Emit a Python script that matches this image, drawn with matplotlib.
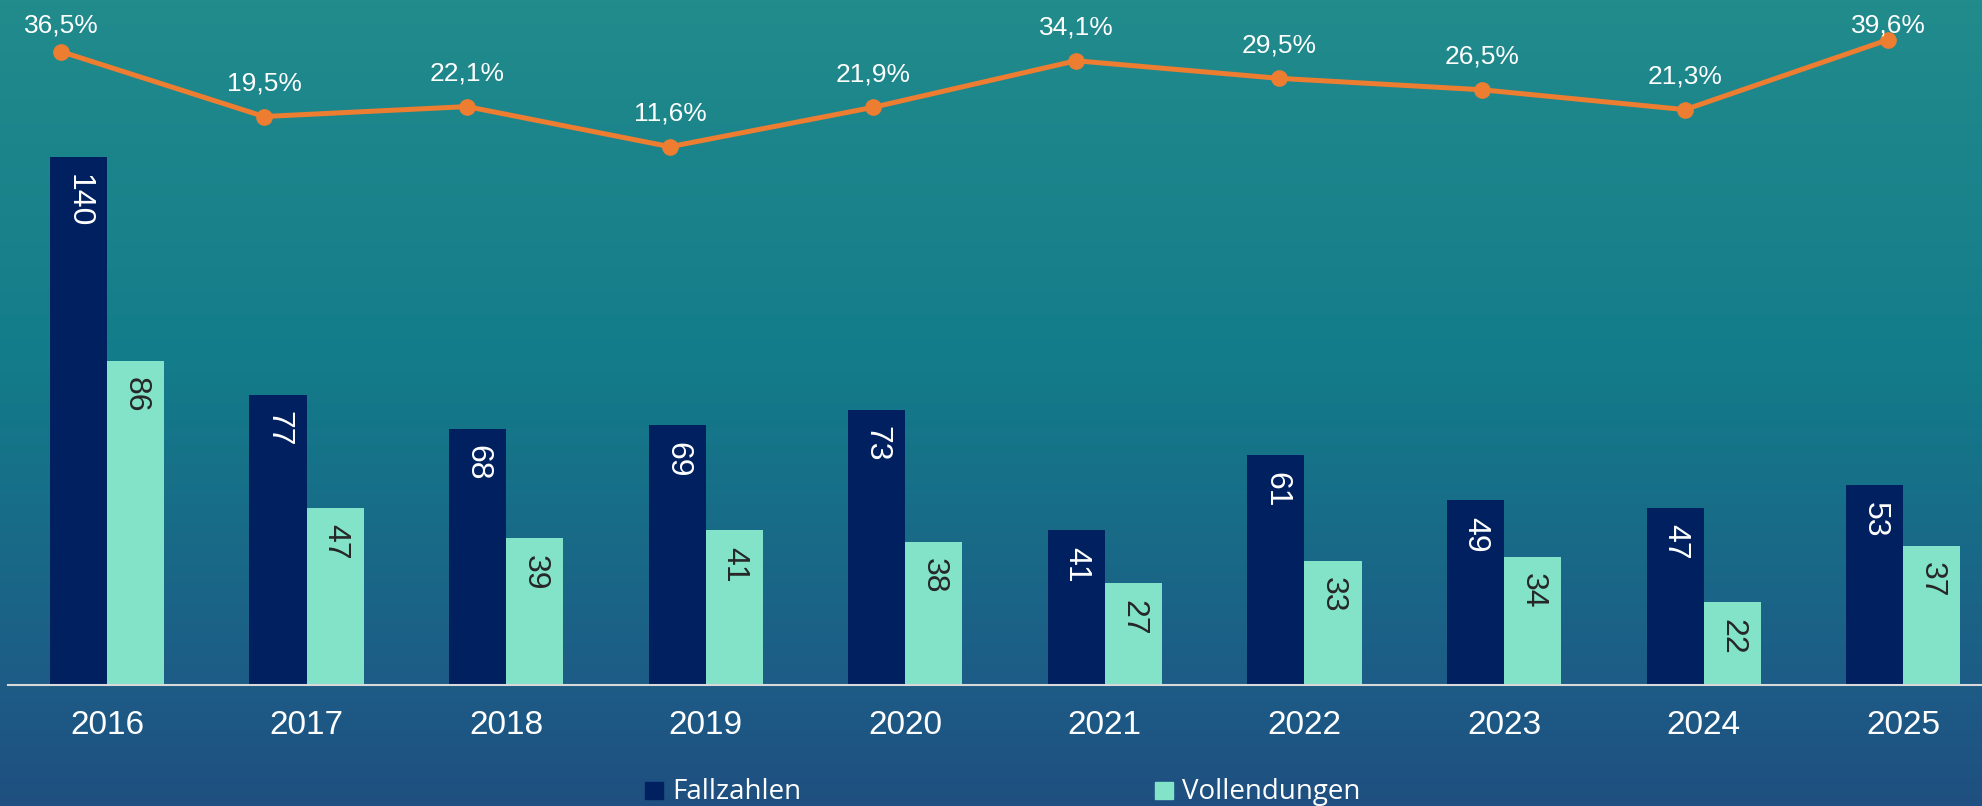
import numpy as np
import matplotlib.pyplot as plt
from matplotlib.colors import LinearSegmentedColormap
from matplotlib.patches import Rectangle

years = ['2016', '2017', '2018', '2019', '2020', '2021', '2022', '2023', '2024', '2025']
fallzahlen = [140, 77, 68, 69, 73, 41, 61, 49, 47, 53]
vollendungen = [86, 47, 39, 41, 38, 27, 33, 34, 22, 37]
quote = [36.5, 19.5, 22.1, 11.6, 21.9, 34.1, 29.5, 26.5, 21.3, 39.6]

dark = '#002060'
light = '#82E3C9'
orange = '#ED7D31'

W, H = 1983, 806
fig = plt.figure(figsize=(W / 100, H / 100), dpi=100)

# background gradient
bg = fig.add_axes([0, 0, 1, 1], zorder=-10)
cmap = LinearSegmentedColormap.from_list('bg', [(0, '#228B8C'), (0.45, '#137C8A'),
                                                (0.85, '#1D5C86'), (1, '#1F4F80')])
bg.imshow(np.linspace(0, 1, 256).reshape(-1, 1), aspect='auto', cmap=cmap,
          extent=[0, 1, 0, 1])
bg.axis('off')

pos = [8 / W, 121 / H, 1975 / W, 685 / H]
ax = fig.add_axes(pos)
ax.patch.set_alpha(0)

x = np.arange(len(years))
w = 0.286
ax.bar(x - w / 2, fallzahlen, w, color=dark)
ax.bar(x + w / 2, vollendungen, w, color=light)

for xi, v in zip(x, fallzahlen):
    ax.annotate(str(v), (xi - w / 2, v), xytext=(0, -12), textcoords='offset points',
                rotation=-90, ha='center', va='top', color='white', fontsize=23,
                family='Liberation Sans')
for xi, v in zip(x, vollendungen):
    ax.annotate(str(v), (xi + w / 2, v), xytext=(0, -12), textcoords='offset points',
                rotation=-90, ha='center', va='top', color='#262626', fontsize=23,
                family='Liberation Sans')

ax.set_xlim(-0.496, 9.40)
ax.set_ylim(0, 181.7)
ax.set_xticks(x)
ax.set_xticklabels(years, color='white', fontsize=24, family='Liberation Sans')
ax.tick_params(axis='x', length=0, pad=18)
ax.set_yticks([])
for s in ['top', 'left', 'right']:
    ax.spines[s].set_visible(False)
ax.spines['bottom'].set_color('#D9D9D9')
ax.spines['bottom'].set_linewidth(1.5)

# line series sits on its own axes (slightly different x spread)
ax2 = fig.add_axes(pos)
ax2.patch.set_alpha(0)
ax2.plot(x, quote, color=orange, lw=3.6, marker='o', markersize=11)
ax2.set_xlim(-0.261, 9.468)
ax2.set_ylim(-129.3, 50)
ax2.axis('off')

fig.canvas.draw()
for xi, q in zip(x, quote):
    ypx = ax2.transData.transform((xi, q))[1]
    off = min(15, (H - 38 - ypx) * 0.72)
    ax2.annotate(f'{q:.1f}%'.replace('.', ','), (xi, q), xytext=(0, off),
                 textcoords='offset points', ha='center', va='bottom', color='white',
                 fontsize=19, family='Liberation Sans')

# legend
for xl, label, col in [(645, 'Fallzahlen', dark), (1155, 'Vollendungen', light)]:
    fig.patches.append(Rectangle((xl / W, 7 / H), 18 / W, 17 / H, color=col,
                                 transform=fig.transFigure))
    fig.text((xl + 27) / W, 7 / H, label, color='white', fontsize=20, va='baseline',
             family=['Liberation Sans Narrow', 'Open Sans'])

fig.savefig('out.png', dpi=100)
